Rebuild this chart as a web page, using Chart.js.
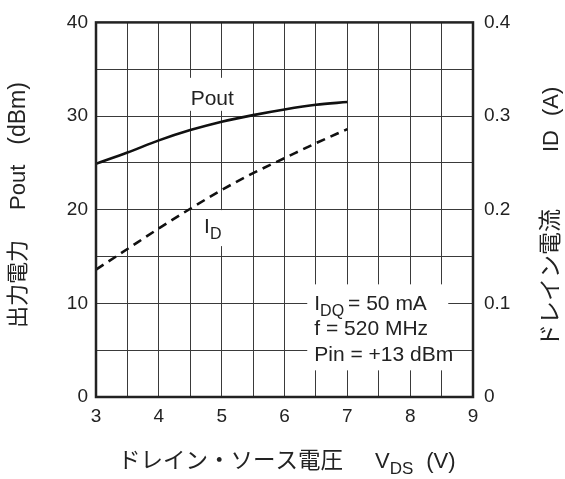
<!DOCTYPE html>
<html>
    <head>
        <meta charset="utf-8">
        <script src="https://cdn.jsdelivr.net/npm/chart.js@4.4.0/dist/chart.umd.min.js"></script>
        <style>
            body { margin: 0; background: #fff; }
        </style>
    </head>
    <body>
        <canvas id="myChart" width="565" height="479"></canvas>
    </body>
    <script>
        // 데이터
        const vds = [3, 3.5, 4, 4.5, 5, 5.5, 6, 6.5, 7]
        const poutDbm = [24.9, 26.1, 27.4, 28.5, 29.4, 30.1, 30.7, 31.2, 31.5]
        const idAmp = [0.136, 0.158, 0.18, 0.201, 0.221, 0.239, 0.255, 0.271, 0.286]

        const xTickLabels = [3, 4, 5, 6, 7, 8, 9]
        const yLeftTickLabels = [0, 10, 20, 30, 40]
        const yRightTickLabels = ['0', '0.1', '0.2', '0.3', '0.4']

        const FONT = '"Liberation Sans", Arial, "Noto Sans CJK JP", sans-serif'
        const INK = '#222'

        // 글자를 이어서 그린다 (아래첨자 포함)
        const drawRuns = (ctx, x, y, runs) => {
            for (const r of runs) {
                ctx.font = (r.size || 22) + 'px ' + FONT
                ctx.fillText(r.t, x, y + (r.dy || 0))
                x += ctx.measureText(r.t).width + (r.gap || 0)
            }
            return x
        }

        const textPlugin = {
            id: 'textPlugin',
            beforeDatasetsDraw(chart) {
                const {ctx, scales: {x, y}} = chart
                ctx.save()
                // 라벨 뒤 흰 상자
                ctx.fillStyle = '#fff'
                const px = x.getPixelForValue(4.85), py = y.getPixelForValue(31.2)
                ctx.fillRect(px - 27, py - 27, 54, 33)
                const ix = x.getPixelForValue(4.8), iy = y.getPixelForValue(17.5)
                ctx.fillRect(ix - 12, iy - 23, 38, 36)
                const bx = x.getPixelForValue(4.5) + 117, by = y.getPixelForValue(10) - 19
                ctx.fillRect(bx, by, 141, 86)

                ctx.fillStyle = INK
                ctx.textBaseline = 'alphabetic'
                ctx.textAlign = 'center'
                ctx.font = '21px ' + FONT
                ctx.fillText('Pout', px, py)
                ctx.textAlign = 'left'
                drawRuns(ctx, ix - 5, iy, [{t: 'I', size: 21}, {t: 'D', size: 16, dy: 6}])

                const tx = bx + 7, ty = by + 26
                drawRuns(ctx, tx, ty, [{t: 'I', size: 21}, {t: 'DQ', size: 16, dy: 6, gap: 4}, {t: '= 50 mA', size: 21}])
                drawRuns(ctx, tx, ty + 25, [{t: 'f = 520 MHz', size: 21}])
                drawRuns(ctx, tx, ty + 51, [{t: 'Pin = +13 dBm', size: 21}])
                ctx.restore()
            },
            afterDraw(chart) {
                const {ctx, chartArea: ca} = chart
                ctx.save()
                // 외곽 테두리
                ctx.strokeStyle = '#222'
                ctx.lineWidth = 2.5
                ctx.strokeRect(ca.left, ca.top, ca.right - ca.left, ca.bottom - ca.top)

                ctx.fillStyle = INK
                ctx.textAlign = 'left'
                ctx.textBaseline = 'alphabetic'
                // x 축 제목
                drawRuns(ctx, 118, 468, [
                    {t: 'ドレイン・ソース電圧', size: 22.5, gap: 32},
                    {t: 'V'},
                    {t: 'DS', size: 17, dy: 6, gap: 13},
                    {t: '(V)'}
                ])

                // 왼쪽 y 축 제목
                ctx.textBaseline = 'middle'
                ctx.save()
                ctx.translate(19, 328)
                ctx.rotate(-Math.PI / 2)
                drawRuns(ctx, 0, 0, [
                    {t: '出力電力', gap: 30},
                    {t: 'Pout', gap: 20},
                    {t: '(dBm)', size: 23}
                ])
                ctx.restore()

                // 오른쪽 y 축 제목
                ctx.save()
                ctx.translate(552, 347)
                ctx.rotate(-Math.PI / 2)
                drawRuns(ctx, 0, 0, [
                    {t: 'ドレイン電流', size: 23, gap: 57},
                    {t: 'ID', gap: 14},
                    {t: '(A)'}
                ])
                ctx.restore()
                ctx.restore()
            }
        }

        const isIn = (list, v) => list.some((t) => Math.abs(Number(t) - v) < 1e-6)

        const data = {
            datasets: [{
                label: 'Pout',
                data: vds.map((v, i) => ({x: v, y: poutDbm[i]})),
                borderColor: '#111',
                borderWidth: 2.6,
                pointRadius: 0,
                cubicInterpolationMode: 'monotone',
                yAxisID: 'y'
            }, {
                label: 'ID',
                data: vds.map((v, i) => ({x: v, y: idAmp[i]})),
                borderColor: '#111',
                borderWidth: 2.6,
                borderDash: [9, 6],
                pointRadius: 0,
                cubicInterpolationMode: 'monotone',
                yAxisID: 'y2'
            }]
        }

        const tickFont = {family: FONT, size: 19}
        const gridStyle = {color: '#3a3a3a', lineWidth: 1, drawTicks: false}

        const config = {
            type: 'line',
            data: data,
            options: {
                responsive: false,
                animation: false,
                devicePixelRatio: 1,
                layout: {padding: {top: 20, left: 0, right: 0, bottom: 0}},
                plugins: {legend: {display: false}, tooltip: {enabled: false}},
                scales: {
                    x: {
                        type: 'linear', min: 3, max: 9,
                        border: {display: false},
                        grid: gridStyle,
                        ticks: {
                            stepSize: 0.5, autoSkip: false, maxRotation: 0,
                            padding: 8, color: INK, font: tickFont,
                            callback: (v) => isIn(xTickLabels, v) ? String(v) : ''
                        },
                        afterFit: (s) => { s.height = 82 }
                    },
                    y: {
                        position: 'left', min: 0, max: 40,
                        border: {display: false},
                        grid: gridStyle,
                        ticks: {
                            stepSize: 5, autoSkip: false, padding: 8, color: INK, font: tickFont,
                            callback: (v) => isIn(yLeftTickLabels, v) ? String(v) : ''
                        },
                        afterFit: (s) => { s.width = 96 }
                    },
                    y2: {
                        position: 'right', min: 0, max: 0.4,
                        border: {display: false},
                        grid: {drawOnChartArea: false, drawTicks: false},
                        ticks: {
                            stepSize: 0.05, autoSkip: false, padding: 11, color: INK, font: tickFont,
                            callback: (v) => {
                                const t = yRightTickLabels.find((l) => Math.abs(Number(l) - v) < 1e-6)
                                return t === undefined ? '' : t
                            }
                        },
                        afterFit: (s) => { s.width = 92 }
                    }
                }
            },
            plugins: [textPlugin]
        }

        let myChart = new Chart(document.getElementById('myChart'), config)
    </script>
</html>
